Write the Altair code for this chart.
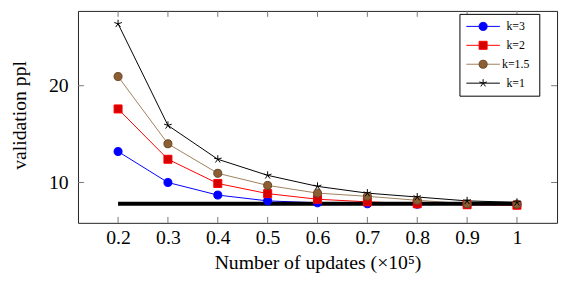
import altair as alt
import pandas as pd

# ---- data ----
updates = [0.2, 0.3, 0.4, 0.5, 0.6, 0.7, 0.8, 0.9, 1.0]
series_names = ["k=3", "k=2", "k=1.5", "k=1"]
ppl_k3 = [13.2, 10.0, 8.7, 8.1, 7.9, 7.8, 7.75, 7.72, 7.7]
ppl_k2 = [17.6, 12.4, 9.9, 8.85, 8.27, 8.0, 7.8, 7.7, 7.65]
ppl_k15 = [20.95, 14.0, 10.95, 9.7, 8.9, 8.57, 8.16, 7.8, 7.76]
ppl_k1 = [26.4, 15.9, 12.4, 10.74, 9.6, 8.9, 8.5, 8.1, 7.95]
baseline_x = [0.2, 1.0]
baseline_y = [7.8, 7.8]
x_ticks = [0.2, 0.3, 0.4, 0.5, 0.6, 0.7, 0.8, 0.9, 1.0]
y_ticks = [10, 20]

line_colors = ["#0000ff", "#ff0000", "#a0805a", "#000000"]
fill_colors = ["#0000ff", "#d60000", "#8b5e34", "transparent"]
stroke_colors = ["#0000ff", "#ff0000", "#6b4423", "#000000"]
asterisk = "M0,-1L0,0M0,0L0.95,-0.31M0,0L0.59,0.81M0,0L-0.59,0.81M0,0L-0.95,-0.31"
shapes = ["circle", "square", "circle", asterisk]

rows = []
for name, vals in zip(series_names, [ppl_k3, ppl_k2, ppl_k15, ppl_k1]):
    for u, v in zip(updates, vals):
        rows.append({"series": name, "updates": u, "ppl": v})
df = pd.DataFrame(rows)
base_df = pd.DataFrame({"updates": baseline_x, "ppl": baseline_y})
xt_df = pd.DataFrame({"updates": x_ticks})
yt_df = pd.DataFrame({"ppl": y_ticks})
leg_df = pd.DataFrame({"series": series_names})

SERIF = "Liberation Serif"
W, H = 486, 215

xs = alt.Scale(domain=[0.1196, 1.0804], nice=False, zero=False)
ys = alt.Scale(domain=[5.83, 27.73], nice=False, zero=False)
col_scale = alt.Scale(domain=series_names, range=line_colors)
fill_scale = alt.Scale(domain=series_names, range=fill_colors)
stroke_scale = alt.Scale(domain=series_names, range=stroke_colors)
shape_scale = alt.Scale(domain=series_names, range=shapes)

x_axis = alt.Axis(
    values=x_ticks, format="~g", labelFont=SERIF, labelFontSize=20,
    labelColor="black", ticks=False, tickSize=0, domain=False, grid=False,
    labelPadding=5, labelFlush=False, labelOverlap=False,
    title="Number of updates (×10⁵)", titleFont=SERIF, titleFontSize=20,
    titleFontWeight="normal", titleColor="black", titleX=W / 2, titleY=40,
    titleBaseline="middle", titleAlign="center",
)
y_axis = alt.Axis(
    values=y_ticks, format="d", labelFont=SERIF, labelFontSize=20,
    labelColor="black", ticks=False, tickSize=0, domain=False, grid=False,
    labelPadding=10, labelFlush=False,
    title="validation ppl", titleFont=SERIF, titleFontSize=20,
    titleFontWeight="normal", titleColor="black", titleX=-59, titleY=105.5,
    titleBaseline="middle", titleAlign="center", titleAngle=270,
)

X = alt.X("updates:Q", scale=xs, axis=x_axis)
Y = alt.Y("ppl:Q", scale=ys, axis=y_axis)

lines = alt.Chart(df).mark_line(strokeWidth=1).encode(
    x=X, y=Y,
    color=alt.Color("series:N", scale=col_scale, legend=None),
    detail="series:N",
)

baseline = alt.Chart(base_df).mark_line(color="black", strokeWidth=4, strokeCap="butt").encode(
    x=X, y=Y,
)

points = alt.Chart(df).mark_point(size=66, strokeWidth=1, opacity=1).encode(
    x=X, y=Y,
    shape=alt.Shape("series:N", scale=shape_scale, legend=None),
    fill=alt.Fill("series:N", scale=fill_scale, legend=None),
    stroke=alt.Stroke("series:N", scale=stroke_scale, legend=None),
)

tick_col = "#777777"
xt_bottom = alt.Chart(xt_df).mark_rule(color=tick_col, strokeWidth=1).encode(
    x=X, y=alt.value(H), y2=alt.value(H - 6))
xt_top = alt.Chart(xt_df).mark_rule(color=tick_col, strokeWidth=1).encode(
    x=X, y=alt.value(0), y2=alt.value(6))
yt_left = alt.Chart(yt_df).mark_rule(color=tick_col, strokeWidth=1).encode(
    y=Y, x=alt.value(0), x2=alt.value(6))
yt_right = alt.Chart(yt_df).mark_rule(color=tick_col, strokeWidth=1).encode(
    y=Y, x=alt.value(W), x2=alt.value(W - 6))

main = alt.layer(lines, xt_bottom, xt_top, yt_left, yt_right, baseline, points)

# ---- legend box ----
leg_y = alt.Y("series:N", sort=series_names, axis=None,
              scale=alt.Scale(type="point", domain=series_names, range=[15.7, 73.3], padding=0))
leg_box = alt.Chart(pd.DataFrame({"a": [0]})).mark_rect(
    fill="white", stroke="black", strokeWidth=1).encode(
    x=alt.value(387.5), x2=alt.value(468.5), y=alt.value(3.5), y2=alt.value(86.5))
leg_lines = alt.Chart(leg_df).mark_rule(strokeWidth=1).encode(
    x=alt.value(394), x2=alt.value(428), y=leg_y,
    color=alt.Color("series:N", scale=col_scale, legend=None))
leg_pts = alt.Chart(leg_df).mark_point(size=66, strokeWidth=1, opacity=1).encode(
    x=alt.value(411), y=leg_y,
    shape=alt.Shape("series:N", scale=shape_scale, legend=None),
    fill=alt.Fill("series:N", scale=fill_scale, legend=None),
    stroke=alt.Stroke("series:N", scale=stroke_scale, legend=None))
leg_txt = alt.Chart(leg_df).mark_text(font=SERIF, fontSize=12, align="center",
                                      baseline="middle", color="black").encode(
    x=alt.value(444), y=leg_y, text="series:N")
legend = alt.layer(leg_box, leg_lines, leg_pts, leg_txt)

chart = alt.layer(main, legend).resolve_scale(y="independent").properties(
    width=W, height=H,
    autosize=alt.AutoSizeParams(type="none"),
    padding={"left": 71, "top": 1, "right": 3, "bottom": 54},
).configure_view(stroke="#222222", strokeWidth=1)

chart.save("out.html", embed_options={"renderer": "svg", "actions": False})
